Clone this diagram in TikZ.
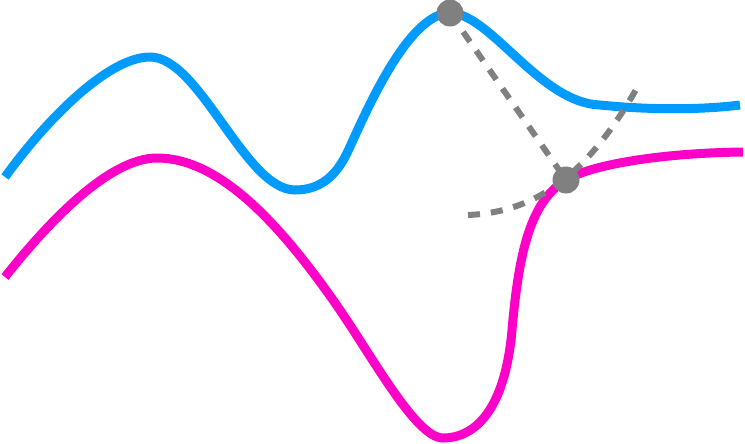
\documentclass[tikz,border=0pt]{standalone}
\usetikzlibrary{calc}
\definecolor{cblue}{RGB}{0,155,255}
\definecolor{cmag}{RGB}{255,0,200}
\definecolor{cgray}{RGB}{128,128,128}
\begin{document}
\begin{tikzpicture}[x=1pt,y=-1pt,
  bluecurve/.style={draw=cblue,line width=9pt},
  magcurve/.style={draw=cmag,line width=9pt},
  dashline/.style={draw=cgray,line width=6pt,dash pattern=on 12pt off 11pt},
  dot/.style={circle,fill=cgray,inner sep=0pt,minimum size=27pt}]
\useasboundingbox (0,0) rectangle (745,444);
% blue curve
\draw[bluecurve] (5,177) .. controls (50,115) and (110,57) .. (150,57)
  .. controls (200,57) and (245,190) .. (295,190)
  .. controls (320,190) and (336,176) .. (347,153)
  .. controls (359,129) and (405,13) .. (450,13)
  .. controls (490,13) and (540,103) .. (600,105)
  .. controls (650,110) and (700,110) .. (740,105);
% magenta curve
\draw[magcurve] (5,277) .. controls (50,220) and (110,158) .. (157,158)
  .. controls (220,158) and (280,225) .. (333,300)
  .. controls (370,352) and (415,438) .. (443,438)
  .. controls (475,438) and (505,410) .. (512,330)
  .. controls (519,250) and (531,201) .. (566,180)
  .. controls (590,165) and (660,153) .. (743,152);
% dots and dashed lines
\coordinate (p1) at (450,13);
\coordinate (p2) at (566,180);
\coordinate (q1) at (468,215);
\coordinate (q2) at (637,88);
\draw[dashline] (p1) -- (p2);
\draw[dashline] (q1) .. controls (540,212) and (590,170) .. (q2);
\node[dot] (d1) at (p1) {};
\node[dot] (d2) at (p2) {};
\end{tikzpicture}
\end{document}
